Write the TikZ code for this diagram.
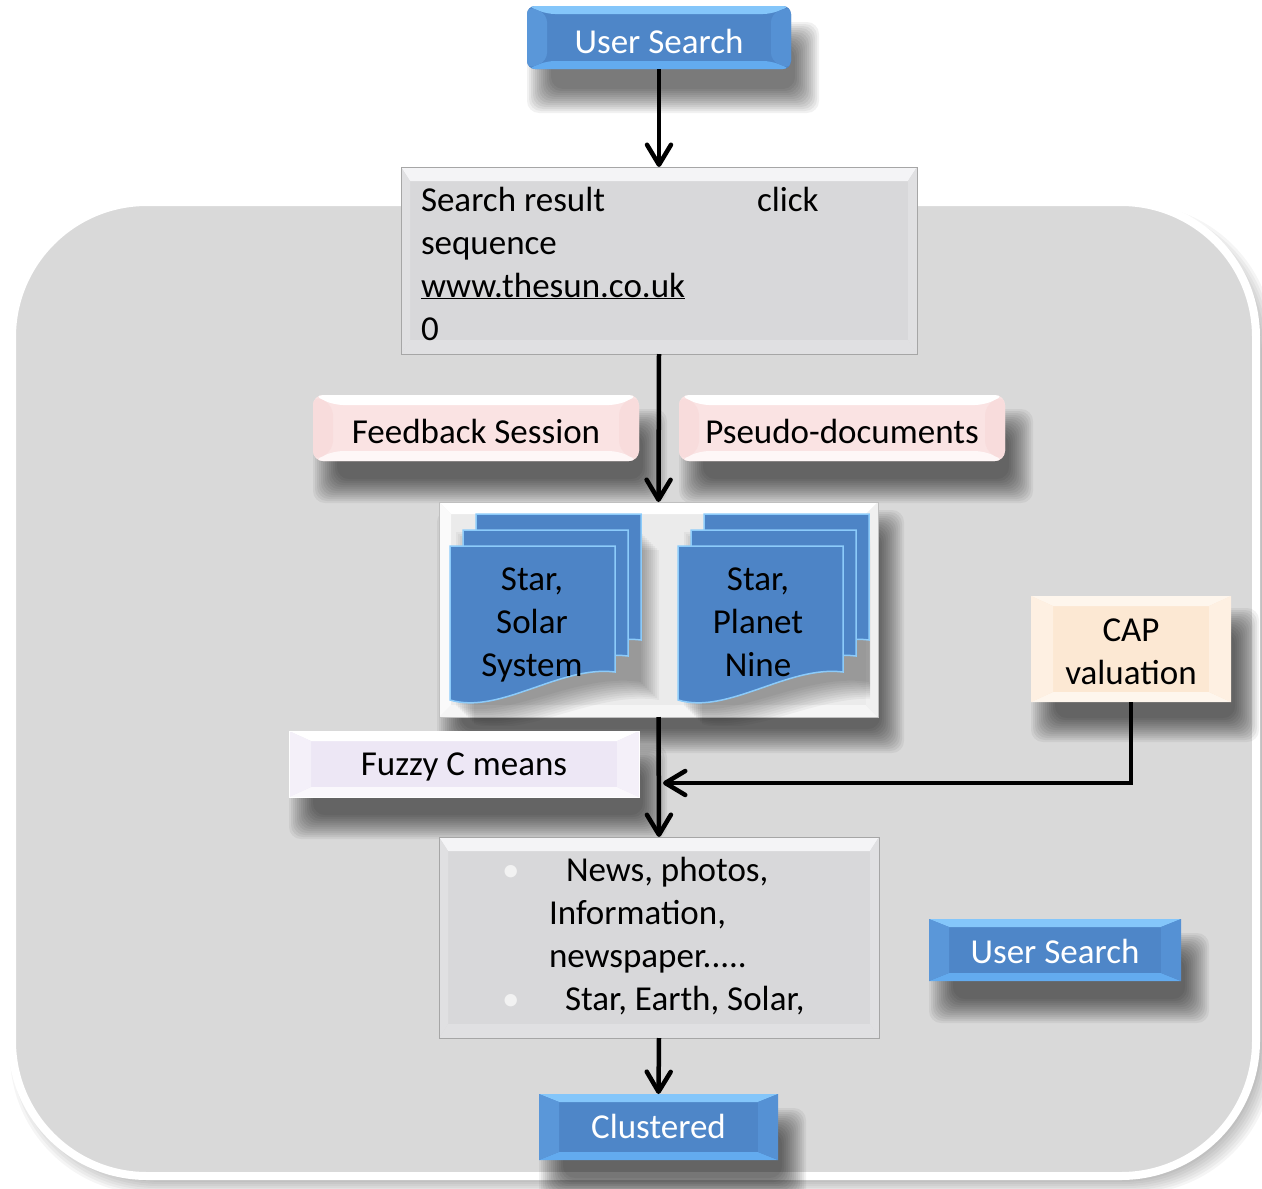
\documentclass[tikz,border=0pt]{standalone}
\usepackage{fontspec}
\setmainfont{Carlito}
\usetikzlibrary{arrows.meta,calc}
\definecolor{bggray}{HTML}{D9D9D9}
\definecolor{bluemain}{HTML}{4E86C8}
\definecolor{bluetop}{HTML}{84C6FA}
\definecolor{bluebot}{HTML}{63ABEF}
\definecolor{blueside}{HTML}{5A97D9}
\definecolor{blueside2}{HTML}{5591D4}
\definecolor{docblue}{HTML}{4D84C6}
\definecolor{docedge}{HTML}{8CCBFA}
\definecolor{pinkmain}{HTML}{FAE3E3}
\definecolor{pinkside}{HTML}{F8DCDC}
\definecolor{lavmain}{HTML}{EDE7F5}
\definecolor{lavside}{HTML}{F4F0F9}
\definecolor{peachmain}{HTML}{FCE8D3}
\definecolor{peachside}{HTML}{FEF0E2}
\definecolor{graymain}{HTML}{D8D8DA}
\definecolor{graytop}{HTML}{F4F4F6}
\definecolor{grayside}{HTML}{E0E0E2}
\definecolor{grayline}{HTML}{A6A6A6}
\pgfdeclarelayer{bg}
\pgfdeclarelayer{shadow}
\pgfsetlayers{bg,shadow,main}
\newcommand\bvS{22pt}
\newcommand\bvT{9pt}
\newcommand\docshape[3]{\path[#1,shift={(#2,#3)}] (0,0) -- (165,0) -- (165,126) .. controls (110,119) and (50,169) .. (0,154) -- cycle;}
\newcommand\nodeshadow[3]{\begin{pgfonlayer}{shadow}\foreach \r in {-10,-8,...,14}{\fill[black,opacity=0.055,rounded corners=12pt] ($(#1.north west)+(#2-\r,#3-\r)$) rectangle ($(#1.south east)+(#2+\r,#3+\r)$);}\end{pgfonlayer}}
\tikzset{
  bvs/.code={\def\bvS{#1}},
  bvt/.code={\def\bvT{#1}},
  bevel/.style n args={4}{path picture={
    \path[fill=#1] (path picture bounding box.north west) -- (path picture bounding box.north east) -- ([xshift=-\bvS,yshift=-\bvT]path picture bounding box.north east) -- ([xshift=\bvS,yshift=-\bvT]path picture bounding box.north west) -- cycle;
    \path[fill=#2] (path picture bounding box.south west) -- (path picture bounding box.south east) -- ([xshift=-\bvS,yshift=\bvT]path picture bounding box.south east) -- ([xshift=\bvS,yshift=\bvT]path picture bounding box.south west) -- cycle;
    \path[fill=#3] (path picture bounding box.north west) -- ([xshift=\bvS,yshift=-\bvT]path picture bounding box.north west) -- ([xshift=\bvS,yshift=\bvT]path picture bounding box.south west) -- (path picture bounding box.south west) -- cycle;
    \path[fill=#4] (path picture bounding box.north east) -- ([xshift=-\bvS,yshift=-\bvT]path picture bounding box.north east) -- ([xshift=-\bvS,yshift=\bvT]path picture bounding box.south east) -- (path picture bounding box.south east) -- cycle;
  }},
  boxbase/.style={inner sep=0pt, outer sep=0pt, anchor=north west},
  bluebtn/.style={boxbase, fill=bluemain, text=white, bvs=20pt, bvt=8pt, bevel={bluetop}{bluebot}{blueside}{blueside2}},
  pinkbtn/.style={boxbase, fill=pinkmain, rounded corners=10pt, bvs=20pt, bvt=10pt, bevel={white}{white!70!pinkmain}{pinkside}{pinkside}},
  lavbtn/.style={boxbase, fill=lavmain, draw=white, line width=1pt, bvs=22pt, bvt=10pt, bevel={white}{white!70!lavmain}{lavside}{lavside}},
  peachbtn/.style={boxbase, fill=peachmain, bvs=22pt, bvt=10pt, bevel={white!60!peachmain}{white!60!peachmain}{peachside}{peachside}},
  graybox/.style={boxbase, fill=graymain, draw=grayline, line width=1pt, bvs=9pt, bvt=14pt, bevel={graytop}{grayside}{grayside}{grayside}},
  contbox/.style={boxbase, fill=white!92!black, draw=white!75!black, line width=1pt, bvs=12pt, bvt=12pt, bevel={white}{white!96!black}{white!98!black}{white!94!black}},
  docfill/.style={fill=docblue, draw=docedge, line width=1.5pt},
  txt/.style={inner sep=0pt, outer sep=0pt},
  arr/.style={line width=4.5pt, -{Straight Barb[length=20pt,width=24pt,round]}},
}
\begin{document}
\begin{tikzpicture}[x=1pt,y=-1pt,font=\fontsize{35}{43}\selectfont]
\useasboundingbox (0,0) rectangle (1262,1189);
% background panel with soft shadow
\begin{pgfonlayer}{bg}
\foreach \r in {-6,-4,...,8}{\fill[black,opacity=0.04,rounded corners=140pt] (18-\r,212-\r) rectangle (1266+\r,1186+\r);}
\path[fill=bggray, draw=white, line width=8pt, rounded corners=135pt] (12,202) rectangle (1256,1176);
\end{pgfonlayer}
% boxes
\node[bluebtn, rounded corners=8pt, minimum width=264pt, text height=47pt, text depth=16pt] (us1) at (527,6) {User Search};
\node[graybox, minimum width=516pt, minimum height=187pt] (sr) at (401,167) {};
\node[pinkbtn, minimum width=326pt, text height=48pt, text depth=18pt] (fb) at (313,395) {Feedback Session};
\node[pinkbtn, minimum width=326pt, text height=48pt, text depth=18pt] (pd) at (679,395) {Pseudo-documents};
\node[contbox, minimum width=439pt, minimum height=215pt] (cont) at (439,502) {};
\node[peachbtn, minimum width=200pt, minimum height=106pt] (cap) at (1031,596) {};
\node[lavbtn, minimum width=350pt, text height=44pt, text depth=22pt] (fcm) at (289,731) {Fuzzy C means};
\node[graybox, minimum width=440pt, minimum height=201pt] (res) at (439,837) {};
\node[bluebtn, minimum width=252pt, text height=44pt, text depth=18pt] (us2) at (929,919) {User Search};
\node[bluebtn, minimum width=239pt, text height=44pt, text depth=22pt] (clu) at (539,1094) {Clustered};
% shadows
\nodeshadow{us1}{14}{30}
\nodeshadow{fb}{14}{28}
\nodeshadow{pd}{14}{28}
\nodeshadow{cont}{12}{22}
\nodeshadow{cap}{14}{26}
\nodeshadow{fcm}{14}{28}
\nodeshadow{us2}{14}{28}
\nodeshadow{clu}{14}{28}
% document shadows inside the frame
\begin{scope}
\clip ([shift={(8,-8)}]cont.north west) rectangle ([shift={(-8,8)}]cont.south east);
\foreach \k in {0,...,9}{\fill[black,opacity=0.04,shift={(456+2*\k,532+2*\k)}] (0,0) -- (185,0) -- (185,150) .. controls (120,140) and (50,190) .. (0,174) -- cycle;}
\foreach \k in {0,...,9}{\fill[black,opacity=0.04,shift={(684+2*\k,532+2*\k)}] (0,0) -- (185,0) -- (185,150) .. controls (120,140) and (50,190) .. (0,174) -- cycle;}
\end{scope}
% documents
\docshape{docfill}{476}{514}
\docshape{docfill}{463}{530}
\docshape{docfill}{450}{546}
\docshape{docfill}{704}{514}
\docshape{docfill}{691}{530}
\docshape{docfill}{678}{546}
% texts (base = last line)
\node[txt, anchor=base west, align=left] (srt) at (421,340) {\makebox[336pt][l]{Search result}click\\sequence\\\underline{www.thesun.co.uk}\\0};
\node[txt, anchor=base, align=center] (d1t) at (532,676) {Star,\\Solar\\System};
\node[txt, anchor=base, align=center] (d2t) at (758,676) {Star,\\Planet\\Nine};
\node[txt, anchor=base, align=center] (capt) at (1131,684) {CAP\\valuation};
\node[txt, anchor=base west, align=left] (rest) at (500,1010) {\makebox[66pt][l]{\hspace*{2pt}\textcolor{white!95!black}{\textbullet}}News, photos,\\\hspace*{49pt}Information,\\\hspace*{49pt}newspaper.....\\\makebox[65pt][l]{\hspace*{2pt}\textcolor{white!95!black}{\textbullet}}Star, Earth, Solar,};
% connectors
\coordinate (jn) at (663,783);
\draw[arr] (us1.south) -- (sr.north);
\draw[arr] (sr.south) -- (cont.north);
\draw[arr] (cont.south) -- (res.north);
\draw[arr] (res.south) -- (clu.north);
\draw[arr] (cap.south) |- (jn);
\end{tikzpicture}
\end{document}
